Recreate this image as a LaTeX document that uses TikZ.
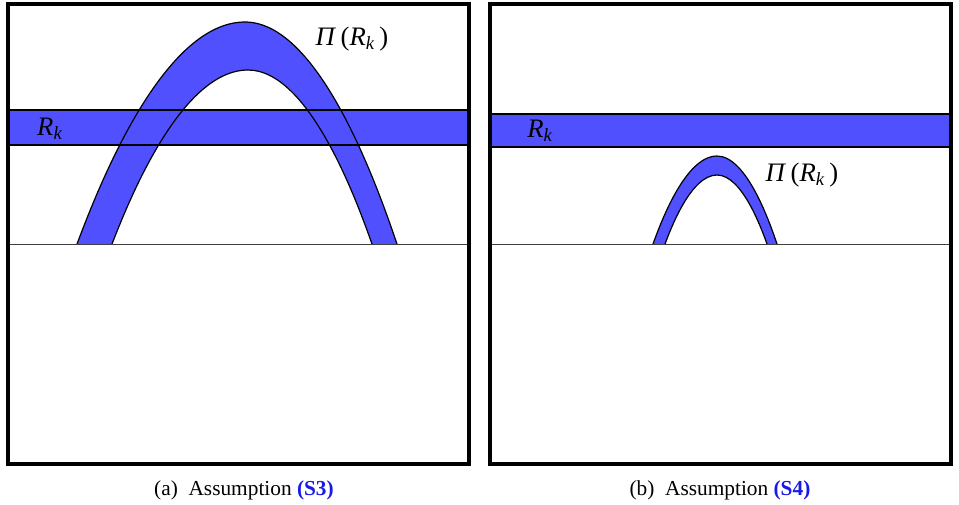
\documentclass[tikz,border=0pt]{standalone}
\usepackage{fontspec}
\setmainfont{Liberation Serif}
\definecolor{bandblue}{RGB}{80,80,255}
\definecolor{capblue}{RGB}{25,25,235}
\tikzset{
	panel/.style={draw=black, line width=2.4pt},
	bandline/.style={draw=black, line width=1.9pt},
	ground/.style={draw=black!75, line width=0.7pt},
	archline/.style={draw=black, line width=0.9pt},
	lab/.style={font=\fontsize{20}{22}\selectfont, inner sep=0pt},
	captext/.style={font=\fontsize{16}{18}\selectfont, inner sep=0pt},
}
\newcommand{\PiR}{\textit{Π}\,(\textit{R}\textsubscript{\textit{k}}\,)}
\begin{document}
\begin{tikzpicture}[x=0.75pt, y=-0.75pt]
	\useasboundingbox (0,0) rectangle (959,504);
	\fill[bandblue] (8,110) rectangle (470,145);
	\fill[bandblue] (77,244) parabola bend (245,22) (397,244) -- (372,244)
		parabola bend (248,70) (112,244) -- cycle;
	\draw[bandline] (8,110) -- (470,110) (8,145) -- (470,145);
	\draw[archline] (77,244) parabola bend (245,22) (397,244);
	\draw[archline] (112,244) parabola bend (248,70) (372,244);
	\draw[ground] (8,244) -- (470,244);
	\draw[panel] (8,4) rectangle (469,464);
	\node[lab] (rka) at (50,129) {\textit{R}\textsubscript{\textit{k}}};
	\node[lab] (pia) at (352,39) {\PiR};
	\node[captext] (capa) at (244,490) {(a)\ \ Assumption \textcolor{capblue}{\textbf{(S3)}}};

	\fill[bandblue] (490,114) rectangle (951,147);
	\fill[bandblue] (653,244) parabola bend (717,156) (777,244) -- (767,244)
		parabola bend (717,175) (665,244) -- cycle;
	\draw[bandline] (490,114) -- (951,114) (490,147) -- (951,147);
	\draw[archline] (653,244) parabola bend (717,156) (777,244);
	\draw[archline] (665,244) parabola bend (717,175) (767,244);
	\draw[ground] (488,244) -- (951,244);
	\draw[panel] (490,4) rectangle (951,464);
	\node[lab] (rkb) at (540,131) {\textit{R}\textsubscript{\textit{k}}};
	\node[lab] (pib) at (802,175) {\PiR};
	\node[captext] (capb) at (720,490) {(b)\ \ Assumption \textcolor{capblue}{\textbf{(S4)}}};
\end{tikzpicture}
\end{document}
